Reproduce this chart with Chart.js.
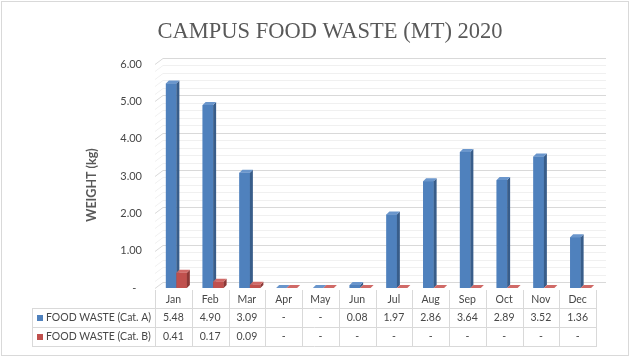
<!DOCTYPE html>
<html>
<head>
<meta charset="utf-8">
<script src="https://cdn.jsdelivr.net/npm/chart.js"></script>
<style>
  html, body { margin: 0; padding: 0; background: #fff; }
  #wrap { position: relative; width: 631px; height: 358px; }
</style>
</head>
<body>
<div id="wrap"><canvas id="wasteChart"></canvas></div>
<script>
const months = ['Jan', 'Feb', 'Mar', 'Apr', 'May', 'Jun', 'Jul', 'Aug', 'Sep', 'Oct', 'Nov', 'Dec'];
const catA = [5.48, 4.90, 3.09, 0, 0, 0.08, 1.97, 2.86, 3.64, 2.89, 3.52, 1.36];
const catB = [0.41, 0.17, 0.09, 0, 0, 0, 0, 0, 0, 0, 0, 0];
const seriesNames = ['FOOD WASTE (Cat. A)', 'FOOD WASTE (Cat. B)'];
const yTicks = [0, 1, 2, 3, 4, 5, 6];

const txtColor = '#595959';
const tableTxt = '#474747';
const lineColor = '#d9d9d9';
const uiFont = 'Lato, "Open Sans", sans-serif';

// face colours for the fake 3d bars
const faces = [
    { front: '#4f81bd', side: '#385d8a', top: '#6a96cc' },
    { front: '#c0504d', side: '#8c3836', top: '#d06a67' }
];

function fmt(v) {
    return v === 0 ? '-' : v.toFixed(2);
}

const excel3d = {
    id: 'excel3d',
    beforeDatasetsDraw(chart) {
        const ctx = chart.ctx;
        const y = chart.scales.y;
        const area = chart.chartArea;
        const x0 = area.left - 3;
        ctx.save();
        ctx.lineWidth = 1;
        for (let i = 0; i <= 30; i++) {
            const py = Math.round(y.getPixelForValue(i / 5)) + 0.5;
            ctx.strokeStyle = i % 5 === 0 ? lineColor : '#f0f0f0';
            ctx.beginPath();
            ctx.moveTo(x0, py);
            ctx.lineTo(x0 + 8, py - 6);
            ctx.lineTo(area.right + 7, py - 6);
            ctx.stroke();
        }
        ctx.restore();
    },
    afterDatasetsDraw(chart) {
        // redraw every bar in series order so Cat. B sits in front of Cat. A
        const ctx = chart.ctx;
        const d = 3;
        ctx.save();
        chart.data.datasets.forEach((ds, i) => {
            const f = faces[i];
            chart.getDatasetMeta(i).data.forEach(bar => {
                const p = bar.getProps(['x', 'y', 'base', 'width'], true);
                const l = p.x - p.width / 2, r = p.x + p.width / 2;
                ctx.fillStyle = f.front;
                ctx.fillRect(l, p.y, p.width, p.base - p.y);
                ctx.fillStyle = f.side;
                ctx.beginPath();
                ctx.moveTo(r, p.y);
                ctx.lineTo(r + d, p.y - d);
                ctx.lineTo(r + d, p.base - d);
                ctx.lineTo(r, p.base);
                ctx.closePath();
                ctx.fill();
                ctx.fillStyle = f.top;
                ctx.beginPath();
                ctx.moveTo(l, p.y);
                ctx.lineTo(l + d, p.y - d);
                ctx.lineTo(r + d, p.y - d);
                ctx.lineTo(r, p.y);
                ctx.closePath();
                ctx.fill();
            });
        });
        ctx.restore();
    },
    afterDraw(chart) {
        const ctx = chart.ctx;
        const xs = chart.scales.x;
        const area = chart.chartArea;
        const colW = xs.width / months.length;
        const left = area.left - 3;
        const right = left + colW * months.length;
        const rows = [290, 308, 327, 346];
        ctx.save();

        // title
        ctx.fillStyle = txtColor;
        ctx.font = '22.5px "Liberation Serif", serif';
        ctx.textAlign = 'center';
        ctx.textBaseline = 'alphabetic';
        ctx.fillText('CAMPUS FOOD WASTE (MT) 2020', 330, 38);

        // y axis title
        ctx.save();
        ctx.translate(92, 185);
        ctx.rotate(-Math.PI / 2);
        ctx.font = 'bold 12.5px ' + uiFont;
        ctx.textBaseline = 'middle';
        ctx.fillText('WEIGHT (kg)', 0, 0);
        ctx.restore();

        // data table grid
        ctx.strokeStyle = lineColor;
        ctx.lineWidth = 1;
        ctx.beginPath();
        for (let k = 0; k <= months.length; k++) {
            const px = Math.round(left + k * colW) + 0.5;
            ctx.moveTo(px, rows[0]);
            ctx.lineTo(px, rows[3]);
        }
        ctx.moveTo(32.5, rows[1]);
        ctx.lineTo(32.5, rows[3]);
        for (let r = 1; r < 4; r++) {
            ctx.moveTo(32, rows[r] + 0.5);
            ctx.lineTo(right + 1, rows[r] + 0.5);
        }
        ctx.stroke();

        // table text
        ctx.font = '10.5px ' + uiFont;
        ctx.textBaseline = 'middle';
        ctx.textAlign = 'center';
        ctx.fillStyle = tableTxt;
        const series = [catA, catB];
        months.forEach((m, i) => {
            const cx = left + colW * (i + 0.5);
            ctx.fillText(m, cx, 300);
            series.forEach((s, j) => {
                ctx.fillText(fmt(s[i]), cx, 318 + j * 19);
            });
        });
        ctx.textAlign = 'left';
        seriesNames.forEach((name, j) => {
            const cy = 318 + j * 19;
            ctx.fillStyle = faces[j].front;
            ctx.fillRect(37, cy - 3, 6, 6);
            ctx.fillStyle = tableTxt;
            ctx.fillText(name, 46, cy);
        });

        // outer frame
        ctx.strokeStyle = lineColor;
        ctx.strokeRect(1.5, 1.5, 627, 354);
        ctx.restore();
    }
};

new Chart(document.getElementById('wasteChart'), {
    type: 'bar',
    data: {
        labels: months,
        datasets: [
            { label: seriesNames[0], data: catA, backgroundColor: faces[0].front },
            { label: seriesNames[1], data: catB, backgroundColor: faces[1].front }
        ]
    },
    options: {
        responsive: true,
        maintainAspectRatio: false,
        animation: false,
        devicePixelRatio: 1,
        layout: { padding: { left: 80, right: 32, top: 64, bottom: 70 } },
        datasets: { bar: { categoryPercentage: 0.57, barPercentage: 1.0, borderWidth: 0 } },
        plugins: {
            legend: { display: false },
            tooltip: { enabled: false }
        },
        scales: {
            x: { display: false },
            y: {
                min: 0,
                max: 6,
                afterFit(scale) { scale.width = 78; },
                afterBuildTicks(scale) { scale.ticks = yTicks.map(v => ({ value: v })); },
                grid: { display: false, drawTicks: false },
                border: { display: false },
                ticks: {
                    padding: 16,
                    color: tableTxt,
                    font: { family: uiFont, size: 11 },
                    callback: v => (v === 0 ? '-  ' : v.toFixed(2))
                }
            }
        }
    },
    plugins: [excel3d]
});
</script>
</body>
</html>
